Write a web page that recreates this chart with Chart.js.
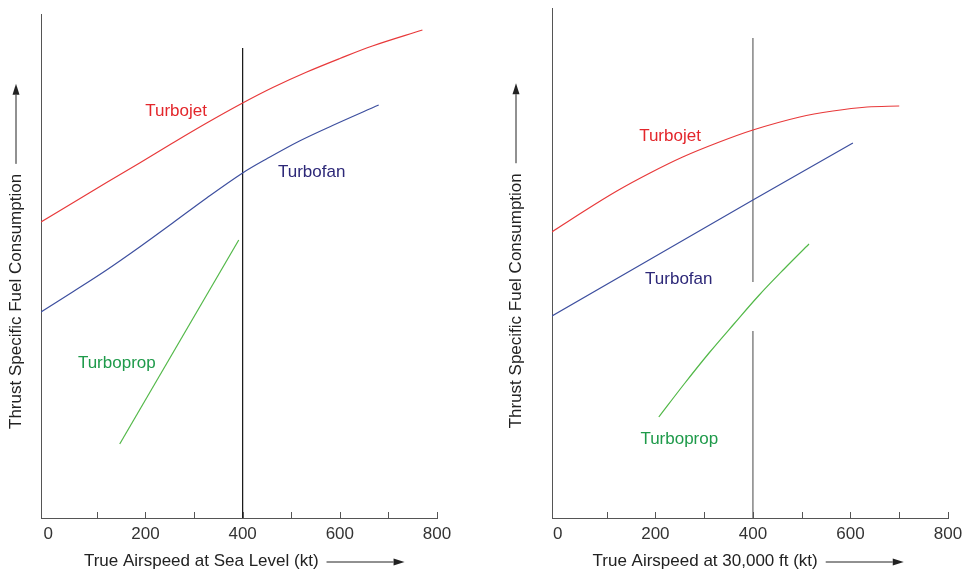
<!DOCTYPE html>
<html>
<head>
<meta charset="utf-8">
<script src="https://cdn.jsdelivr.net/npm/chart.js@4"></script>
<style>
html, body { margin: 0; padding: 0; background: #fff; }
#wrap { position: relative; width: 963px; height: 576px; }
#cLeft { position: absolute; left: 0; top: 0; }
#cRight { position: absolute; left: 480px; top: 0; }
</style>
</head>
<body>
<div id="wrap">
  <canvas id="cLeft" width="480" height="576"></canvas>
  <canvas id="cRight" width="483" height="576"></canvas>
</div>
<script>
// airspeed ticks (kt), every 100 marked, every 200 labelled
const xTicks = [100, 200, 300, 400, 500, 600, 700, 800];
const xLabelTicks = [0, 200, 400, 600, 800];

// sea level panel (TSFC in relative units, no scale shown)
const seaJetX = [-15, 50, 120, 188, 256, 326, 400, 462, 532, 600, 667, 770];
const seaJetY = [296, 315, 335.5, 355, 375, 395, 415, 430.5, 446, 459.5, 472, 488];
const seaFanX = [-15, 50, 120, 188, 256, 326, 400, 449, 517, 585, 680];
const seaFanY = [206, 226, 248, 271, 295, 320, 345, 359, 377, 392.5, 413];
const seaPropX = [147, 392];
const seaPropY = [74, 278];
const seaMarkY = [0, 470];

// 30,000 ft panel
const altJetX = [-12, 51, 121, 189, 256, 326, 400, 496, 564, 634, 700];
const altJetY = [286, 306, 327, 345, 361, 375, 388, 401, 407, 411, 412];
const altFanX = [-12, 400, 605];
const altFanY = [202, 318, 375];
const altPropX = [207, 259, 310, 361, 413, 464, 515];
const altPropY = [101, 134, 165, 194, 223, 249, 274];
const altMarkY = [0, 187, null, 236, 480];

const engineNames = ['Turbojet', 'Turbofan', 'Turboprop'];
const seaLabelX = [263, 542, 141];
const seaLabelY = [407, 346, 155];
const altLabelX = [230, 248, 249];
const altLabelY = [382, 239, 79];

const lineColors = ['#e8393a', '#3d4f9f', '#52b848'];
const textColors = ['#e3262b', '#2d2878', '#1e9a4a'];
const axisColor = '#555';
const FONT = '"Liberation Sans", Arial, sans-serif';

Chart.defaults.font.family = FONT;
Chart.defaults.font.size = 17;

const pts = (xs, ys) => xs.map((x, i) => ({ x: x, y: ys[i] }));

function arrow(ctx, x0, y0, x1, y1) {
    const ang = Math.atan2(y1 - y0, x1 - x0);
    const head = 11, half = 3.5;
    ctx.beginPath();
    ctx.moveTo(x0, y0);
    ctx.lineTo(x1 - head * Math.cos(ang), y1 - head * Math.sin(ang));
    ctx.stroke();
    ctx.beginPath();
    ctx.moveTo(x1, y1);
    ctx.lineTo(x1 - head * Math.cos(ang) - half * Math.sin(ang), y1 - head * Math.sin(ang) + half * Math.cos(ang));
    ctx.lineTo(x1 - head * Math.cos(ang) + half * Math.sin(ang), y1 - head * Math.sin(ang) - half * Math.cos(ang));
    ctx.closePath();
    ctx.fill();
}

const decor = {
    id: 'decor',
    afterDraw(chart, args, opts) {
        const { ctx, chartArea } = chart;
        const x = chart.scales.x, y = chart.scales.y;
        ctx.save();
        // small tick marks pointing into the plot
        ctx.strokeStyle = axisColor;
        ctx.lineWidth = 1;
        xTicks.forEach(v => {
            const px = Math.round(x.getPixelForValue(v)) + 0.5;
            ctx.beginPath();
            ctx.moveTo(px, chartArea.bottom);
            ctx.lineTo(px, chartArea.bottom - 6);
            ctx.stroke();
        });

        // engine names next to the curves
        ctx.font = '17px ' + FONT;
        ctx.textAlign = 'center';
        ctx.textBaseline = 'middle';
        engineNames.forEach((name, i) => {
            ctx.fillStyle = textColors[i];
            ctx.fillText(name, x.getPixelForValue(opts.labelX[i]), y.getPixelForValue(opts.labelY[i]));
        });

        // arrows after the axis titles
        ctx.strokeStyle = '#222';
        ctx.fillStyle = '#222';
        ctx.lineWidth = 1;
        const xFull = ctx.measureText(x.options.title.text).width;
        const xText = ctx.measureText(opts.xTitle).width;
        const xc = (chartArea.left + chartArea.right) / 2;
        const xs = xc - xFull / 2 + xText + 8;
        arrow(ctx, xs, opts.xArrowY, xs + 78, opts.xArrowY);

        const yFull = ctx.measureText(y.options.title.text).width;
        const yText = ctx.measureText(opts.yTitle).width;
        const yc = (chartArea.top + chartArea.bottom) / 2;
        const ys = yc + yFull / 2 - yText - 10;
        arrow(ctx, opts.yArrowX, ys, opts.yArrowX, ys - 80);
        ctx.restore();
    }
};

function makeChart(id, p) {
    const xTitle = p.xTitle;
    const yTitle = 'Thrust Specific Fuel Consumption';
    return new Chart(document.getElementById(id), {
        type: 'line',
        data: {
            datasets: [
                { data: pts(p.jetX, p.jetY), borderColor: lineColors[0] },
                { data: pts(p.fanX, p.fanY), borderColor: lineColors[1] },
                { data: pts(p.propX, p.propY), borderColor: lineColors[2] },
                { data: p.markY.map(v => ({ x: 400, y: v })), borderColor: p.markColor, tension: 0, spanGaps: false }
            ]
        },
        options: {
            responsive: false,
            animation: false,
            layout: { padding: { top: p.padTop, right: p.padRight, bottom: 0, left: 0 } },
            elements: {
                point: { radius: 0 },
                line: { borderWidth: 1.2, tension: 0.35, fill: false }
            },
            plugins: {
                legend: { display: false },
                tooltip: { enabled: false },
                decor: {
                    labelX: p.labelX, labelY: p.labelY,
                    xTitle: xTitle, yTitle: yTitle,
                    xArrowY: 562, yArrowX: p.yArrowX
                }
            },
            scales: {
                x: {
                    type: 'linear',
                    min: p.xMin,
                    max: 800,
                    afterBuildTicks: s => { s.ticks = xLabelTicks.map(v => ({ value: v })); },
                    afterFit: s => { s.height = 58; s.paddingLeft = 0; s.paddingRight = 0; },
                    ticks: { padding: 6, color: '#333', maxRotation: 0, autoSkip: false },
                    grid: { display: false, drawTicks: false },
                    border: { color: axisColor, width: 1 },
                    title: {
                        display: true,
                        text: xTitle + ' '.repeat(p.xPad),
                        color: '#222',
                        padding: { top: 0, bottom: 4 }
                    }
                },
                y: {
                    type: 'linear',
                    min: 0,
                    max: p.yMax,
                    afterFit: s => { s.width = p.yWidth; },
                    ticks: { display: false },
                    grid: { display: false, drawTicks: false },
                    border: { color: axisColor, width: 1 },
                    title: {
                        display: true,
                        text: yTitle + ' '.repeat(p.yPad),
                        color: '#222',
                        padding: { top: p.yTitleTop, bottom: 0 }
                    }
                }
            }
        },
        plugins: [decor]
    });
}

makeChart('cLeft', {
    jetX: seaJetX, jetY: seaJetY, fanX: seaFanX, fanY: seaFanY,
    propX: seaPropX, propY: seaPropY, markY: seaMarkY, markColor: '#111',
    labelX: seaLabelX, labelY: seaLabelY,
    xTitle: 'True Airspeed at Sea Level (kt)', xPad: 16, xMin: -15,
    yMax: 504, yWidth: 41, yTitleTop: 6, yPad: 15, yArrowX: 16,
    padTop: 14, padRight: 43
});

makeChart('cRight', {
    jetX: altJetX, jetY: altJetY, fanX: altFanX, fanY: altFanY,
    propX: altPropX, propY: altPropY, markY: altMarkY, markColor: '#666',
    labelX: altLabelX, labelY: altLabelY,
    xTitle: 'True Airspeed at 30,000 ft (kt)', xPad: 19, xMin: -12,
    yMax: 510, yWidth: 72, yTitleTop: 26, yPad: 16, yArrowX: 36,
    padTop: 8, padRight: 15
});
</script>
</body>
</html>
